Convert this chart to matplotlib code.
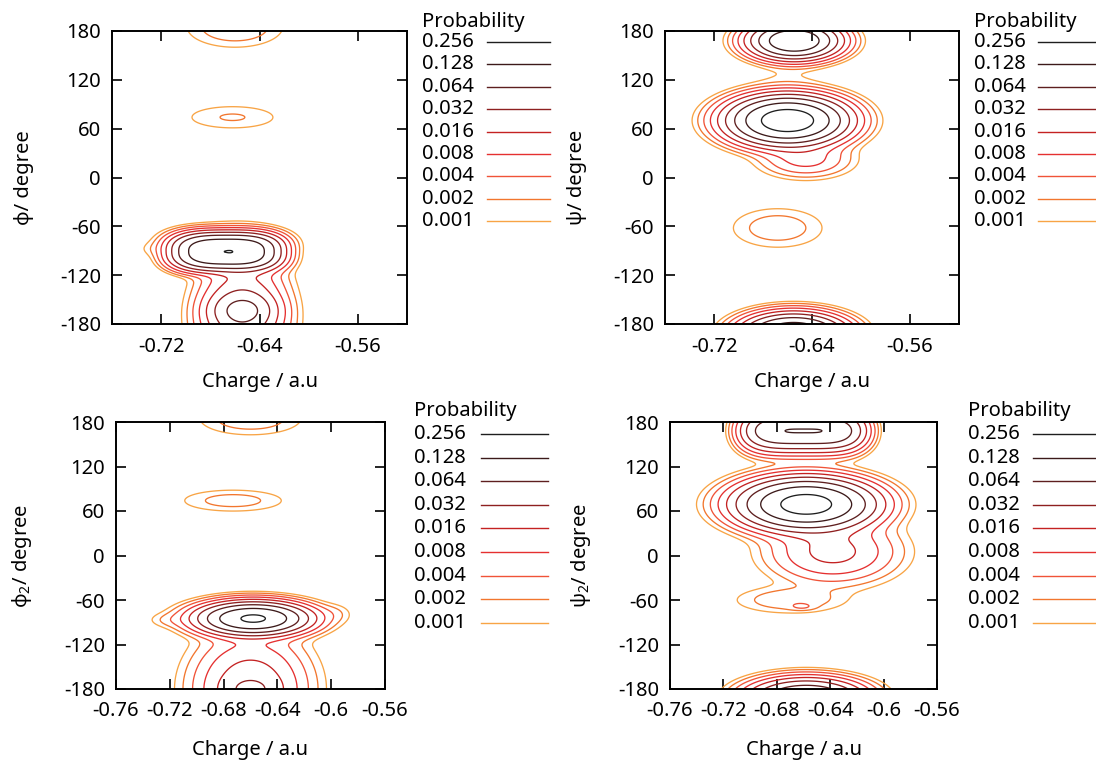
import numpy as np
import matplotlib
matplotlib.use("Agg")
import matplotlib.pyplot as plt
from matplotlib.lines import Line2D

plt.rcParams['font.family'] = ['Noto Sans', 'DejaVu Sans']
plt.rcParams['mathtext.fontset'] = 'custom'
plt.rcParams['mathtext.rm'] = 'Noto Sans'
plt.rcParams['mathtext.it'] = 'Noto Sans:italic'
plt.rcParams['axes.unicode_minus'] = False

# ---------------- data ----------------
levels = [0.256, 0.128, 0.064, 0.032, 0.016, 0.008, 0.004, 0.002, 0.001]
level_labels = ["0.256", "0.128", "0.064", "0.032", "0.016", "0.008", "0.004", "0.002", "0.001"]
level_colors = ["#1e1e1e", "#3c1a1a", "#5e1f1f", "#8e2020", "#c42222",
                "#e53030", "#f05338", "#f2762e", "#f8a445"]

y_ticks = [-180, -120, -60, 0, 60, 120, 180]
x_ticks_top = [-0.72, -0.64, -0.56]
x_tick_labels_top = ["-0.72", "-0.64", "-0.56"]
x_ticks_bottom = [-0.76, -0.72, -0.68, -0.64, -0.60, -0.56]
x_tick_labels_bottom = ["-0.76", "-0.72", "-0.68", "-0.64", "-0.6", "-0.56"]

# density peaks:
# centre (charge, angle), widths, height, shape exponents in x and y (2 = Gaussian)
phi_cx = [-0.667, -0.668, -0.728, -0.654, -0.654, -0.662, -0.660]
phi_cy = [-91, -78, -88, -175, -163, 74, 185]
phi_sx = [0.0276, 0.030, 0.008, 0.018, 0.014, 0.0266, 0.024]
phi_sy = [13.2, 12, 6, 40, 12, 10.5, 15.4]
phi_amp = [0.2512, 0.003, 0.0008, 0.04, 0.05, 0.00215, 0.0037]
phi_px = [3, 2, 2, 2, 2, 2, 2]
phi_py = [2.5, 2, 2, 2, 2, 2, 2]

psi_cx = [-0.660, -0.6545, -0.655, -0.645, -0.660, -0.668]
psi_cy = [70, 168, -192, 22, 125, -62]
psi_sx = [0.0225, 0.0175, 0.020, 0.020, 0.020, 0.0237]
psi_sy = [14.3, 11, 12, 12, 8, 15.5]
psi_amp = [0.40, 0.25, 0.25, 0.010, 0.0008, 0.0032]
psi_px = [2, 2, 2, 2, 2, 2]
psi_py = [2, 2, 2, 2, 2, 2]

phi2_cx = [-0.658, -0.660, -0.660, -0.660, -0.673, -0.660, -0.720, -0.597]
phi2_cy = [-85, -83, -180, -180, 74, 185, -87, -78]
phi2_sx = [0.0195, 0.030, 0.022, 0.012, 0.025, 0.024, 0.010, 0.008]
phi2_sy = [10.7, 14, 38, 10, 9.8, 14.2, 6, 8]
phi2_amp = [0.28, 0.004, 0.027, 0.012, 0.0028, 0.0034, 0.0015, 0.0012]
phi2_px = [2, 2, 2, 2, 2, 2, 2, 2]
phi2_py = [2, 2, 2, 2, 2, 2, 2, 2]

psi2_cx = [-0.658, -0.660, -0.658, -0.638, -0.670, -0.661]
psi2_cy = [69, 168, -192, 5, -60, -69]
psi2_sx = [0.024, 0.033, 0.021, 0.025, 0.025, 0.006]
psi2_sy = [16.7, 14.3, 13, 22, 11, 3]
psi2_amp = [0.35, 0.13, 0.15, 0.02, 0.0035, 0.0025]
psi2_px = [2, 4, 2, 2, 2, 2]
psi2_py = [2, 2, 2, 2, 2, 2]

W, H = 1096, 762


def density(X, Y, cx, cy, sx, sy, amp, px, py):
    Z = np.zeros_like(X)
    for a, b, c, d, e, qx, qy in zip(cx, cy, sx, sy, amp, px, py):
        Z += e * np.exp(-0.5 * (np.abs((X - a) / c) ** qx + np.abs((Y - b) / d) ** qy))
    return Z


fig = plt.figure(figsize=(W / 100, H / 100), dpi=100)


def rect(x0, x1, y0, y1):
    return [x0 / W, 1 - y1 / H, (x1 - x0) / W, (y1 - y0) / H]


panels = [
    dict(rect=rect(112, 407, 31, 324), xlim=(-0.76, -0.52), xt=x_ticks_top, xtl=x_tick_labels_top,
         data=(phi_cx, phi_cy, phi_sx, phi_sy, phi_amp, phi_px, phi_py), ylabel="ϕ/ degree",
         ylab_x=-0.265, xlab_y=-0.165,
         leg=dict(tx=422, ty=22, r0=42, dy=22.4, l0=487, l1=550)),
    dict(rect=rect(665, 959, 31, 324), xlim=(-0.76, -0.52), xt=x_ticks_top, xtl=x_tick_labels_top,
         data=(psi_cx, psi_cy, psi_sx, psi_sy, psi_amp, psi_px, psi_py), ylabel="ψ/ degree",
         ylab_x=-0.265, xlab_y=-0.165,
         leg=dict(tx=974, ty=22, r0=42, dy=22.4, l0=1038, l1=1101)),
    dict(rect=rect(116, 385, 422, 689), xlim=(-0.76, -0.56), xt=x_ticks_bottom, xtl=x_tick_labels_bottom,
         data=(phi2_cx, phi2_cy, phi2_sx, phi2_sy, phi2_amp, phi2_px, phi2_py), ylabel="ϕ$_2$/ degree",
         ylab_x=-0.305, xlab_y=-0.19,
         leg=dict(tx=414, ty=411, r0=434, dy=23.6, l0=481, l1=548)),
    dict(rect=rect(670, 937, 422, 689), xlim=(-0.76, -0.56), xt=x_ticks_bottom, xtl=x_tick_labels_bottom,
         data=(psi2_cx, psi2_cy, psi2_sx, psi2_sy, psi2_amp, psi2_px, psi2_py), ylabel="ψ$_2$/ degree",
         ylab_x=-0.29, xlab_y=-0.19,
         leg=dict(tx=968, ty=411, r0=434, dy=23.6, l0=1033, l1=1101)),
]

FS = 14.5
asc_levels = levels[::-1]
asc_colors = level_colors[::-1]

for p in panels:
    ax = fig.add_axes(p["rect"])
    xs = np.linspace(p["xlim"][0], p["xlim"][1], 400)
    ys = np.linspace(-180, 180, 400)
    X, Y = np.meshgrid(xs, ys)
    Z = density(X, Y, *p["data"])
    ax.contour(X, Y, Z, levels=asc_levels, colors=asc_colors, linewidths=0.95)
    ax.set_xlim(*p["xlim"])
    ax.set_ylim(-180, 180)
    ax.set_xticks(p["xt"])
    ax.set_xticklabels(p["xtl"])
    ax.set_yticks(y_ticks)
    ax.tick_params(direction="in", top=True, right=True, length=7, width=1.2,
                   labelsize=FS, pad=8)
    ax.tick_params(axis="x", pad=9)
    for s in ax.spines.values():
        s.set_linewidth(1.4)
    ax.set_xlabel("Charge / a.u", fontsize=FS)
    ax.xaxis.set_label_coords(0.5, p["xlab_y"])
    ax.set_ylabel(p["ylabel"], fontsize=FS)
    ax.yaxis.set_label_coords(p["ylab_x"], 0.5)

    lg = p["leg"]
    fig.text(lg["tx"] / W, 1 - lg["ty"] / H, "Probability", fontsize=FS, ha="left", va="center")
    for i, (lab, col) in enumerate(zip(level_labels, level_colors)):
        yy = lg["r0"] + i * lg["dy"]
        fig.text(lg["tx"] / W, 1 - yy / H, lab, fontsize=FS, ha="left", va="center")
        fig.add_artist(Line2D([lg["l0"] / W, lg["l1"] / W], [1 - yy / H, 1 - yy / H],
                              color=col, linewidth=1.0, transform=fig.transFigure))

fig.savefig("out.png", dpi=100)
